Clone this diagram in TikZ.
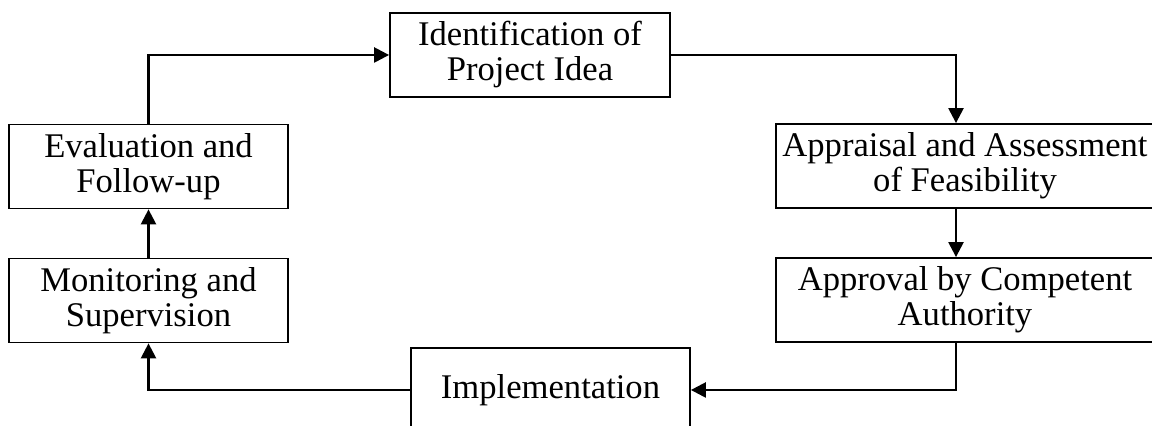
\documentclass[tikz,border=0pt]{standalone}
\usepackage{fontspec}
\setmainfont{Liberation Serif}
\usetikzlibrary{arrows.meta}
\begin{document}
\begin{tikzpicture}[x=1pt,y=1pt,
  stagebox/.style={draw,line width=0.9pt,align=center,inner sep=0pt,minimum height=42pt,font=\fontsize{17.3}{17.5}\selectfont},
  flow/.style={line width=1.2pt,-{Triangle[length=7.5pt,width=7.5pt]}}]
\useasboundingbox (0,0) rectangle (576,213);
\node [stagebox,minimum width=140pt] (idea) at (265,185.5) {Identification of\\Project Idea}; %1
\node [stagebox,minimum width=189pt] (appraisal) at (482.5,130) {Appraisal and Assessment\\of Feasibility}; %2
\node [stagebox,minimum width=189pt] (approval) at (482.5,63) {Approval by Competent\\Authority}; %3
\node [stagebox,minimum width=139.5pt] (impl) at (275.25,18) {Implementation}; %4
\node [stagebox,minimum width=139.5pt] (monitor) at (74.25,62.75) {Monitoring and\\Supervision}; %5
\node [stagebox,minimum width=139.5pt] (eval) at (74.25,129.75) {Evaluation and\\Follow-up}; %6
\draw [flow] (idea.east) -| ([xshift=-4.5pt]appraisal.north);
\draw [flow] ([xshift=-4.5pt]appraisal.south) -- ([xshift=-4.5pt]approval.north);
\draw [flow] ([xshift=-4.5pt]approval.south) |- (impl.east);
\draw [flow] (impl.west) -| (monitor.south);
\draw [flow] (monitor.north) -- (eval.south);
\draw [flow] (eval.north) |- (idea.west);
\end{tikzpicture}
\end{document}
